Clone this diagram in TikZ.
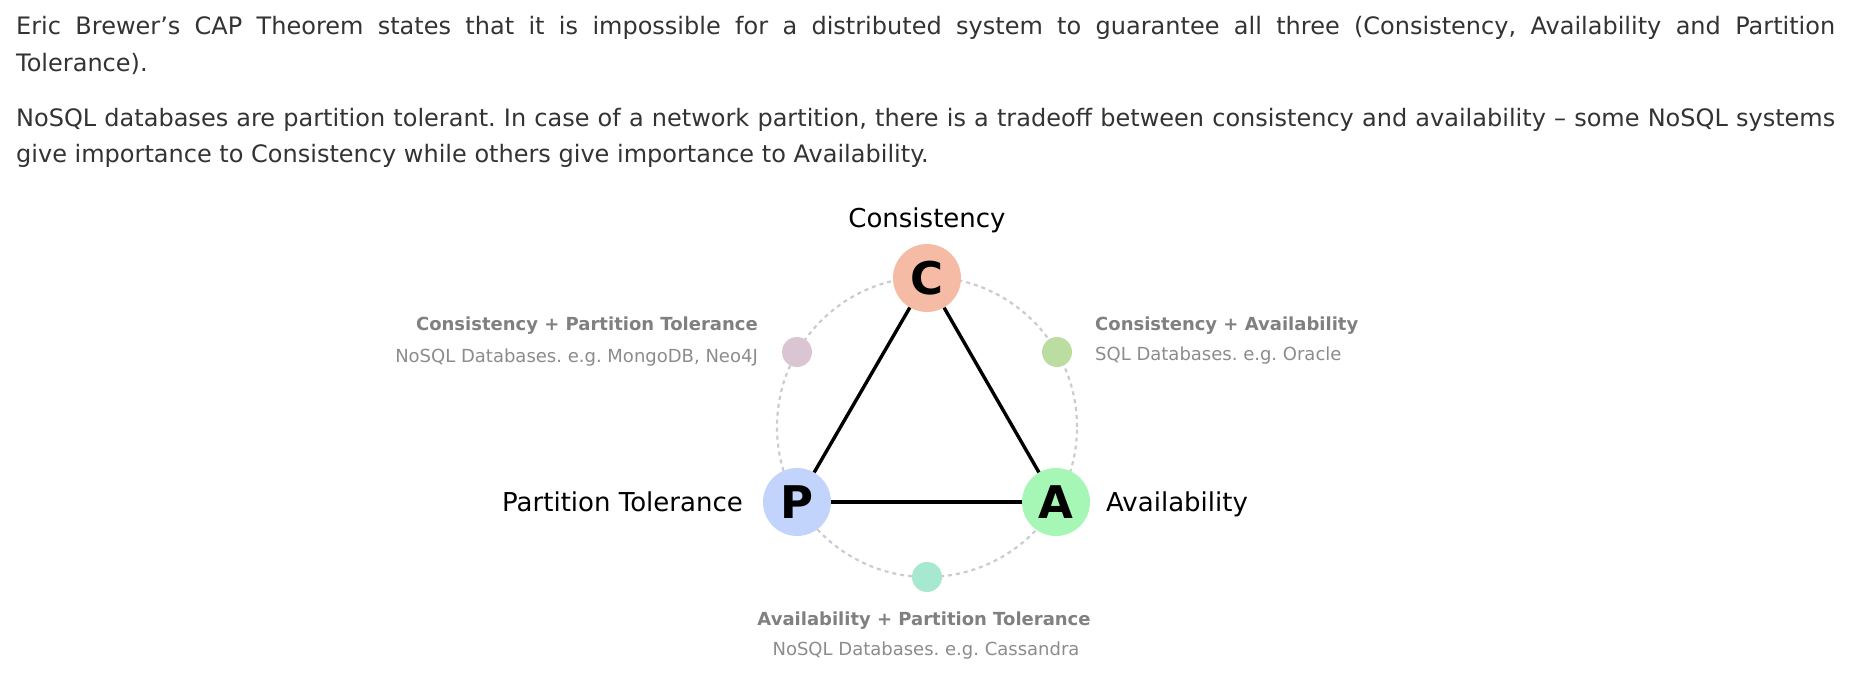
\documentclass[tikz,border=0pt]{standalone}
\usepackage{fontspec}
\setmainfont{DejaVu Sans}
\definecolor{cC}{HTML}{F5BBA5}
\definecolor{cP}{HTML}{C2D4FC}
\definecolor{cA}{HTML}{A6F7B5}
\definecolor{cCP}{HTML}{DBC5D3}
\definecolor{cCA}{HTML}{BCDDA2}
\definecolor{cAP}{HTML}{A6E8D0}
\definecolor{dashgray}{HTML}{CCCCCC}
\definecolor{lbold}{HTML}{808080}
\definecolor{lnorm}{HTML}{8C8C8C}
\definecolor{paratext}{HTML}{333333}
\begin{document}
\frenchspacing
\begin{tikzpicture}[x=1pt,y=-1pt,
  vert/.style={circle, inner sep=0pt, minimum size=68pt, font=\fontsize{45}{45}\bfseries, text=black},
  combo/.style={circle, inner sep=0pt, minimum size=30pt},
  big/.style={font=\fontsize{26}{30}\selectfont, text=black, inner sep=0pt},
  lblb/.style={font=\fontsize{18}{22}\bfseries, text=lbold, inner sep=0pt},
  lbln/.style={font=\fontsize{18}{22}\selectfont, text=lnorm, inner sep=0pt},
  para/.style={font=\fontsize{24}{28}\selectfont, text=paratext, inner sep=0pt, anchor=base west},
  edge/.style={line width=3.4pt, black},
  dashcirc/.style={dashgray, line width=2.2pt, dash pattern=on 4pt off 4pt}]
\useasboundingbox[fill=white] (0,0) rectangle (1850,685);

\node[para] (p1) at (16,35) {\makebox[1819pt][s]{Eric Brewer’s CAP Theorem states that it is impossible for a distributed system to guarantee all three (Consistency, Availability and Partition}};
\node[para] (p2) at (16,71) {Tolerance).};
\node[para] (p3) at (16,126) {\makebox[1819pt][s]{NoSQL databases are partition tolerant. In case of a network partition, there is a tradeoff between consistency and availability – some NoSQL systems}};
\node[para] (p4) at (16,162) {give importance to Consistency while others give importance to Availability.};

\coordinate (O) at (927,427);
\draw[dashcirc] (O) circle[radius=150pt];

\node[combo, fill=cCP] (CP) at (797,352) {};
\node[combo, fill=cCA] (CA) at (1057,352) {};
\node[combo, fill=cAP] (AP) at (927,577) {};

\node[vert, fill=cC] (C) at (927,278) {C};
\node[vert, fill=cP] (P) at (797,502) {P};
\node[vert, fill=cA] (A) at (1056,502) {A};

\draw[edge] (C) -- (P);
\draw[edge] (P) -- (A);
\draw[edge] (A) -- (C);

\node[big, anchor=base] (tC) at (927,227) {Consistency};
\node[big, anchor=base east] (tP) at (743,511) {Partition Tolerance};
\node[big, anchor=base west] (tA) at (1106,511) {Availability};

\node[lblb, anchor=base east] (lCP1) at (758,330) {Consistency + Partition Tolerance};
\node[lbln, anchor=base east] (lCP2) at (758,362) {NoSQL Databases. e.g. MongoDB, Neo4J};
\node[lblb, anchor=base west] (lCA1) at (1095,330) {Consistency + Availability};
\node[lbln, anchor=base west] (lCA2) at (1095,360) {SQL Databases. e.g. Oracle};
\node[lblb, anchor=base] (lAP1) at (924,625) {Availability + Partition Tolerance};
\node[lbln, anchor=base] (lAP2) at (926,655) {NoSQL Databases. e.g. Cassandra};
\end{tikzpicture}
\end{document}
